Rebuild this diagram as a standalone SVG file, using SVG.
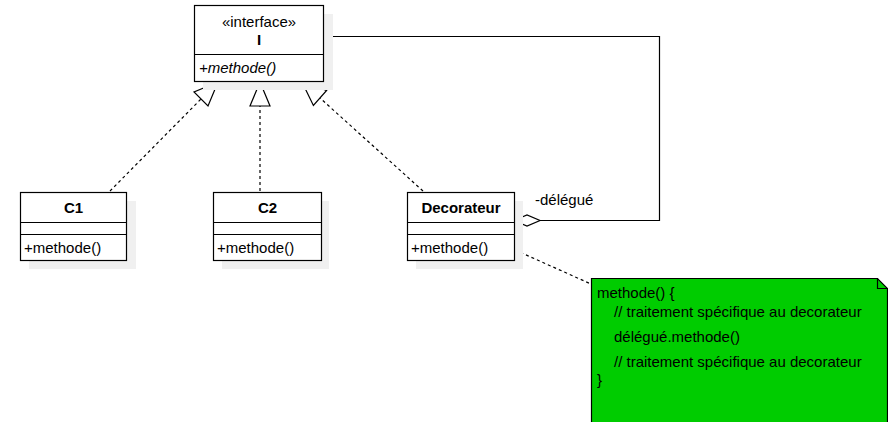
<svg xmlns="http://www.w3.org/2000/svg" width="888" height="422" viewBox="0 0 888 422">
<style>
text{font-family:"Liberation Sans",Arial,sans-serif;font-size:15px;fill:#000}
.b{font-weight:bold}
.i{font-style:italic}
.m{text-anchor:middle}
.box{fill:#fff;stroke:#000;stroke-width:1.2}
.sh{fill:#f0f0f0;stroke:none}
.ln{fill:none;stroke:#000;stroke-width:1.2}
.dash{fill:none;stroke:#000;stroke-width:1.2;stroke-dasharray:3 3}
.tri{fill:#fff;stroke:#000;stroke-width:1.2}
</style>
<rect width="888" height="422" fill="#fff"/>
<g id="connectors">
<line class="dash" x1="110" y1="191" x2="201" y2="99"/>
<polygon class="tri" points="218,82 208,106 194,92"/>
<line class="dash" x1="260" y1="191" x2="260" y2="106"/>
<polygon class="tri" points="260,82 270,106 250,106"/>
<line class="dash" x1="423" y1="191" x2="320" y2="98"/>
<polygon class="tri" points="302,82 326.6,90.5 313.4,105.5"/>
<polyline class="ln" points="323.5,36.5 659.5,36.5 659.5,220.5 540,220.5"/>
<polygon class="tri" points="514,220.5 527,215 540,220.5 527,226"/>
<text x="535" y="205">-délégué</text>
<line class="dash" x1="515" y1="250" x2="591" y2="284"/>
</g>
<g id="I">
<rect class="sh" x="203" y="14" width="130" height="76"/>
<rect class="box" x="194.5" y="5.5" width="129" height="76"/>
<line class="ln" x1="194.5" y1="54.5" x2="323.5" y2="54.5"/>
<text class="m" x="259" y="27">«interface»</text>
<text class="m b" x="259" y="45">I</text>
<text class="i" x="199" y="73">+methode()</text>
</g>
<g id="C1">
<rect class="sh" x="29" y="201" width="107" height="68"/>
<rect class="box" x="20.5" y="192.5" width="106" height="68"/>
<line class="ln" x1="20.5" y1="222.5" x2="126.5" y2="222.5"/>
<line class="ln" x1="20.5" y1="234.5" x2="126.5" y2="234.5"/>
<text class="m b" x="73.5" y="213">C1</text>
<text x="24" y="253">+methode()</text>
</g>
<g id="C2">
<rect class="sh" x="222" y="201" width="107" height="68"/>
<rect class="box" x="213.5" y="192.5" width="108" height="68"/>
<line class="ln" x1="213.5" y1="222.5" x2="321.5" y2="222.5"/>
<line class="ln" x1="213.5" y1="234.5" x2="321.5" y2="234.5"/>
<text class="m b" x="267.5" y="213">C2</text>
<text x="217" y="253">+methode()</text>
</g>
<g id="Decorateur">
<rect class="sh" x="416" y="201" width="107" height="68"/>
<rect class="box" x="407.5" y="192.5" width="107" height="68"/>
<line class="ln" x1="407.5" y1="222.5" x2="514.5" y2="222.5"/>
<line class="ln" x1="407.5" y1="234.5" x2="514.5" y2="234.5"/>
<text class="m b" x="461" y="213">Decorateur</text>
<text x="411" y="253">+methode()</text>
</g>
<g id="note">
<path d="M591.5,278.5 H877.5 L887.5,288.5 V430 H591.5 Z" fill="#00cc00" stroke="#000" stroke-width="1.2"/>
<path d="M877.5,278.5 V288.5 H887.5" fill="none" stroke="#000" stroke-width="1.2"/>
<text x="597" y="298">methode() {</text>
<text x="614" y="317">// traitement spécifique au decorateur</text>
<text x="614" y="342">délégué.methode()</text>
<text x="614" y="367">// traitement spécifique au decorateur</text>
<text x="597" y="385">}</text>
</g>
</svg>
